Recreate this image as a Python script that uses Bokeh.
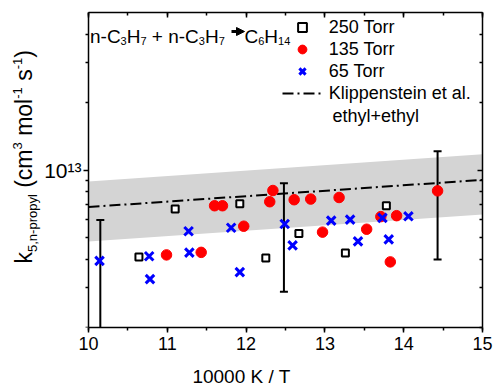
from bokeh.plotting import figure
from bokeh.models import (Range1d, FixedTicker, SingleIntervalTicker, Label, Legend, LegendItem,
                          LinearAxis, LogAxis, Arrow, NormalHead, CustomJSTickFormatter)
from bokeh.embed import file_html
from bokeh.resources import INLINE

FONT = "Liberation Sans"

# ---------------- data ----------------
x_250 = [10.64, 11.10, 11.92, 12.25, 12.67, 13.26, 13.78]
k_250 = [4.11e12, 6.71e12, 7.08e12, 4.07e12, 5.22e12, 4.28e12, 6.94e12]

x_135 = [10.99, 11.43, 11.60, 11.70, 11.97, 12.30, 12.34, 12.61, 12.82, 13.18,
         12.97, 13.53, 13.71, 13.91, 13.83, 14.43]
k_135 = [4.20e12, 4.31e12, 6.94e12, 6.94e12, 5.63e12, 7.23e12, 8.11e12, 7.38e12, 7.43e12, 7.55e12,
         5.30e12, 5.46e12, 6.21e12, 6.27e12, 3.91e12, 8.08e12]

x_65 = [10.14, 10.77, 10.78, 11.27, 11.28, 11.81, 11.92, 12.49, 12.59, 13.08,
        13.32, 13.42, 13.73, 13.81, 14.06]
k_65 = [3.95e12, 4.14e12, 3.28e12, 5.35e12, 4.30e12, 5.54e12, 3.52e12, 5.76e12, 4.63e12, 5.96e12,
        6.02e12, 4.82e12, 6.13e12, 4.92e12, 6.23e12]

err_x = [10.15, 12.48, 14.43]
err_lo = [1.5e12, 2.88e12, 4.01e12]
err_hi = [6.00e12, 8.74e12, 1.21e13]

klip_x = [10.0, 15.0]
klip_k = [6.85e12, 9.04e12]
band_lo = [4.82e12, 6.34e12]
band_hi = [8.88e12, 1.176e13]

x_bounds = (10, 15)
y_major = [1e13]
y_minor = [2e12, 3e12, 4e12, 5e12, 6e12, 7e12, 8e12, 9e12, 2e13, 3e13, 4e13]
legend_labels = ["250 Torr", "135 Torr", "65 Torr", "Klippenstein et al."]
legend_extra = "ethyl+ethyl"
x_title = "10000 K / T"

# ---------------- layout constants (pixels) ----------------
W_PX, H_PX = 494, 389
AX_LEFT_PX = 88          # where x = 10 sits
RIGHT_BORDER = 12
PX_PER_UNIT = (W_PX - RIGHT_BORDER - AX_LEFT_PX) / (x_bounds[1] - x_bounds[0])
x_start = x_bounds[0] - AX_LEFT_PX / PX_PER_UNIT   # frame starts at the canvas' left edge

# ---------------- figure ----------------
p = figure(width=W_PX, height=H_PX, y_axis_type="log",
           x_range=Range1d(x_start, x_bounds[1]), y_range=Range1d(2e12, 5e13),
           output_backend="svg", toolbar_location=None,
           min_border_left=0, min_border_right=RIGHT_BORDER, min_border_top=12, min_border_bottom=60)
p.grid.visible = False
p.outline_line_color = None
p.background_fill_color = "white"
p.border_fill_color = "white"

p.varea(x=klip_x, y1=band_lo, y2=band_hi, fill_color="#d4d4d4")
r_klip = p.line(klip_x, klip_k, line_color="black", line_width=2, line_dash="11 4 2 4")
p.segment(err_x, err_lo, err_x, err_hi, line_color="black", line_width=2)
p.scatter(err_x, err_lo, marker="dash", size=8, line_color="black", line_width=2)
p.scatter(err_x, err_hi, marker="dash", size=8, line_color="black", line_width=2)
r_sq = p.scatter(x_250, k_250, marker="square", size=7, fill_color="white",
                 line_color="black", line_width=2)
r_red = p.scatter(x_135, k_135, marker="circle", size=10.5, fill_color="#ff0000", line_color="#ff0000")
r_blue = p.scatter(x_65, k_65, marker="x", size=12, line_color="#0000ff", line_width=3)

# ---------------- axes ----------------
def style_axis(ax, inward):
    ax.axis_line_color = "black"
    ax.axis_line_width = 1.5
    ax.major_tick_line_color = "black"
    ax.minor_tick_line_color = "black"
    ax.major_tick_line_width = 1.5
    ax.minor_tick_line_width = 1.5
    if inward:
        ax.major_tick_in, ax.major_tick_out = 5, 0
        ax.minor_tick_in, ax.minor_tick_out = 3, 0
        ax.major_label_standoff = 0
        ax.formatter = CustomJSTickFormatter(code="return ''")
    else:
        ax.major_tick_in, ax.major_tick_out = 0, 5
        ax.minor_tick_in, ax.minor_tick_out = 0, 3
    ax.major_label_text_font = FONT
    ax.major_label_text_color = "black"

xa = p.xaxis[0]
xa.ticker = SingleIntervalTicker(interval=1, num_minor_ticks=2)
xa.bounds = x_bounds
style_axis(xa, False)
xa.major_label_text_font_size = "18px"
xa.major_label_standoff = 4
xa.axis_label = x_title
xa.axis_label_text_font = FONT
xa.axis_label_text_font_size = "19px"
xa.axis_label_text_font_style = "normal"
xa.axis_label_text_color = "black"
xa.axis_label_standoff = 13

ya = p.yaxis[0]
ya.ticker = FixedTicker(ticks=y_major, minor_ticks=y_minor)
ya.fixed_location = x_bounds[0]
style_axis(ya, False)
ya.formatter = CustomJSTickFormatter(code="return tick == 1e13 ? '10\u00b9\u00b3' : ''")
ya.major_label_text_font_size = "21px"
ya.major_label_standoff = 2

top = LinearAxis(ticker=SingleIntervalTicker(interval=1, num_minor_ticks=2), bounds=x_bounds)
style_axis(top, True)
p.add_layout(top, "above")
right = LogAxis(ticker=FixedTicker(ticks=y_major, minor_ticks=y_minor))
style_axis(right, True)
p.add_layout(right, "right")

# ---------------- text helpers (Arial / Liberation Sans advance widths) ----------------
W = {' ': 278, '+': 584, '-': 333, ',': 278, '(': 333, ')': 333, 'C': 722, 'H': 722,
     'n': 556, 'k': 500, 'c': 500, 'm': 833, 'o': 556, 'l': 222, 's': 500, 'p': 556,
     'r': 333, 'y': 500}
for d in "0123456789":
    W[d] = 556

def tw(s, size):
    return sum(W[c] for c in s) * size / 1000.0

def place(pieces, x0, y0, rotated=False):
    """x0/y0: start of the baseline, frame-relative screen px (y up)."""
    pos = 0.0
    for text, size, shift in pieces:
        lead = len(text) - len(text.lstrip(" "))
        core = text.strip(" ")
        pos += tw(" " * lead, size)
        w = tw(core, size)
        if rotated:
            # centre of the glyph box; 'up' of the glyphs points to -x
            cx = x0 - shift - 0.35 * size
            cy = y0 + pos + w / 2
            lab = Label(x=cx, y=cy, text=core, angle=1.5707963267948966,
                        text_align="center", text_baseline="middle")
        else:
            lab = Label(x=x0 + pos, y=y0 + shift, text=core,
                        text_align="left", text_baseline="alphabetic")
        lab.x_units = "screen"
        lab.y_units = "screen"
        lab.text_font = FONT
        lab.text_font_size = f"{size}px"
        lab.text_color = "black"
        p.add_layout(lab)
        pos += w
        pos += tw(" " * (len(text) - lead - len(core)), size)
    return pos

# reaction annotation
F, f = 19, 11
place([("n-C", F, 0), ("3", f, -4), ("H", F, 0), ("7", f, -4),
       (" + n-C", F, 0), ("3", f, -4), ("H", F, 0), ("7", f, -4)], 89.5, 291)
p.add_layout(Arrow(x_start=231, y_start=296, x_end=244, y_end=296,
                   start_units="screen", end_units="screen", line_width=3, line_color="black",
                   end=NormalHead(size=8, fill_color="black", line_color="black")))
place([("C", F, 0), ("6", f, -4), ("H", F, 0), ("14", f, -4)], 244, 291)

# y axis title (rotated, drawn inside the frame's left extension)
FY, fy = 23, 13
place([("k", FY, 0), ("5,n-propyl", fy, -5), (" (cm", FY, 0), ("3", fy, 10),
       (" mol", FY, 0), ("-1", fy, 10), (" s", FY, 0), ("-1", fy, 10), (")", FY, 0)],
      32, 64, rotated=True)

# ---------------- legend ----------------
legend = Legend(items=[LegendItem(label=legend_labels[0], renderers=[r_sq]),
                       LegendItem(label=legend_labels[1], renderers=[r_red]),
                       LegendItem(label=legend_labels[2], renderers=[r_blue]),
                       LegendItem(label=legend_labels[3], renderers=[r_klip])],
                location=(281.7, 223), orientation="vertical",
                glyph_width=40, glyph_height=22, label_height=22, label_standoff=7,
                spacing=0, padding=0, margin=0,
                border_line_color=None, background_fill_alpha=0,
                label_text_font=FONT, label_text_font_size="18px", label_text_color="black")
p.add_layout(legend)
p.add_layout(Label(x=332, y=212, x_units="screen", y_units="screen", text=legend_extra,
                   text_font=FONT, text_font_size="18px", text_color="black",
                   text_align="left", text_baseline="middle"))

open("out.html", "w").write(file_html(p, INLINE))
